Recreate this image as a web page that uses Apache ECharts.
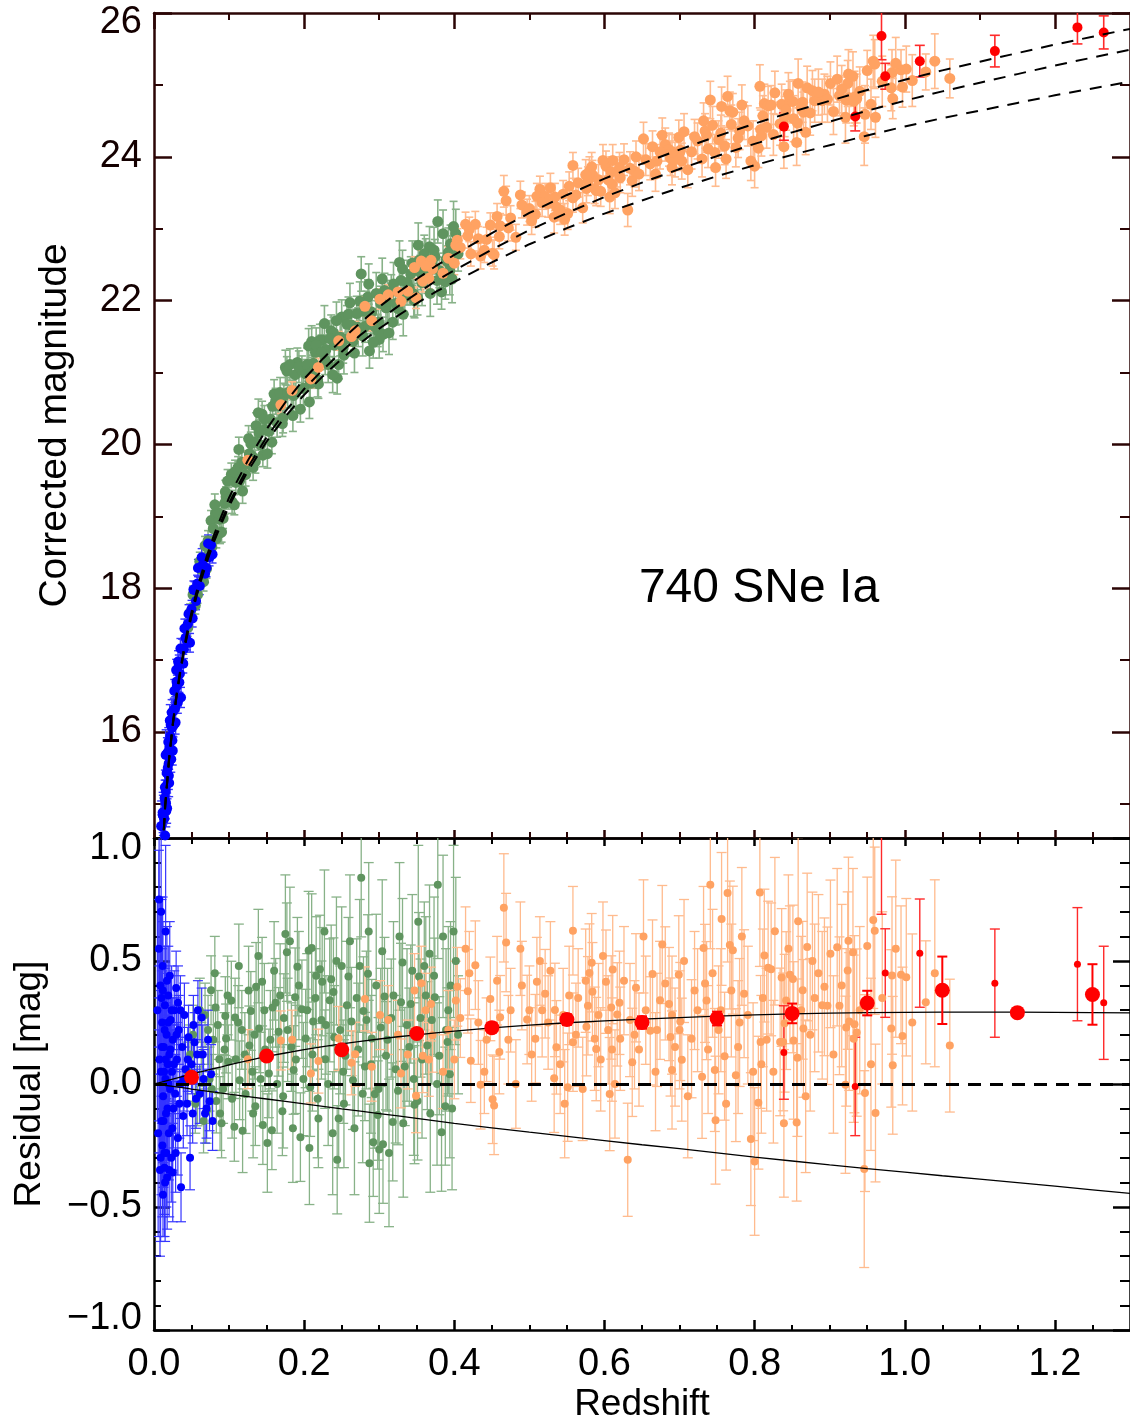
<!DOCTYPE html>
<html>
<head>
<meta charset="utf-8">
<title>740 SNe Ia</title>
<script src="https://cdn.jsdelivr.net/npm/echarts@6/dist/echarts.min.js"></script>
<style>
  html, body { margin: 0; padding: 0; background: #fff; }
  #chart { width: 1130px; height: 1424px; }
</style>
</head>
<body>
<div id="chart"></div>
<script>
// tick positions
var xMajor = [0, 0.2, 0.4, 0.6, 0.8, 1.0, 1.2];
var xMinorFine = [0.05, 0.1, 0.15, 0.25, 0.3, 0.35, 0.45, 0.5, 0.55, 0.65, 0.7, 0.75, 0.85, 0.9, 0.95, 1.05, 1.1, 1.15, 1.25];
var xMinorCoarse = [0.1, 0.3, 0.5, 0.7, 0.9, 1.1];
var magMajor = [16, 18, 20, 22, 24, 26];
var magMinor = [15, 17, 19, 21, 23, 25];
var resMajor = [-1, -0.5, 0, 0.5, 1];
var resMinor = [-0.9, -0.8, -0.7, -0.6, -0.4, -0.3, -0.2, -0.1, 0.1, 0.2, 0.3, 0.4, 0.6, 0.7, 0.8, 0.9];

// low-z sample (blue)
var blueZ = [0.0045,0.0055,0.0065,0.0072,0.0080,0.0085,0.0092,0.0100,0.0108,0.0115,
  0.0122,0.0130,0.0138,0.0145,0.0152,0.0160,0.0168,0.0175,0.0183,0.0190,
  0.0198,0.0205,0.0213,0.0222,0.0230,0.0240,0.0250,0.0260,0.0270,0.0282,
  0.0295,0.0305,0.0318,0.0330,0.0345,0.0360,0.0375,0.0390,0.0405,0.0420,
  0.0440,0.0460,0.0480,0.0500,0.0525,0.0540,0.0560,0.0585,0.0610,0.0635,
  0.0650,0.0680,0.0700,0.0740,0.0760,0.0120,0.0155,0.0210,0.0250,0.0100,
  0.0140,0.0320,0.0068,0.0095,
  0.0088,0.0105,0.0112,0.0118,0.0126,0.0134,0.0142,0.0148,0.0157,0.0164,
  0.0172,0.0180,0.0187,0.0195,0.0202,0.0218,0.0235,0.0245,0.0265,0.0288,
  0.0300,0.0338,0.0352,0.0398,0.0450,0.0515,0.0575,0.0660,0.0720,0.0780];
var blueMag = [12.66,12.60,13.71,13.48,13.26,14.15,13.97,13.95,14.52,14.88,
  14.48,14.82,14.52,15.23,15.03,15.01,15.43,14.94,15.50,15.86,
  15.39,15.79,15.73,16.10,15.62,16.06,16.28,16.09,16.57,16.33,
  16.86,16.64,16.41,16.93,16.81,16.48,17.15,16.95,17.44,17.31,
  17.27,17.64,17.24,17.71,17.98,17.97,17.82,18.28,18.03,18.43,
  18.33,18.20,18.28,18.43,18.60,14.05,15.68,16.16,15.74,14.45,
  14.49,16.98,14.01,14.69,
  13.52,14.36,14.10,14.84,14.45,14.79,15.08,14.56,15.18,14.90,
  15.70,15.28,15.72,15.56,15.29,15.94,16.27,15.88,16.31,16.13,
  16.70,16.69,17.16,17.15,17.50,17.58,18.06,18.27,18.62,18.47];
var blueRes = [0.30,-0.20,0.55,0.10,-0.35,0.40,0.05,-0.15,0.25,0.48,
  -0.05,0.15,-0.28,0.32,0.02,-0.12,0.20,-0.38,0.08,0.36,
  -0.20,0.12,-0.02,0.26,-0.30,0.05,0.18,-0.10,0.30,-0.04,
  0.39,0.10,-0.22,0.22,0.00,-0.42,0.15,-0.13,0.28,0.06,
  -0.08,0.19,-0.30,0.08,0.24,0.17,-0.06,0.30,-0.04,0.27,
  0.12,-0.12,-0.10,-0.07,0.04,-0.45,0.62,0.44,-0.36,0.35,
  -0.34,0.33,0.75,0.70,
  -0.30,0.15,-0.25,0.38,-0.15,0.05,0.22,-0.40,0.10,-0.28,
  0.42,-0.10,0.25,0.00,-0.35,0.14,0.30,-0.18,0.08,-0.28,
  0.20,-0.08,0.30,0.02,0.10,-0.12,0.12,0.02,0.18,-0.15];
var blueErr = [0.45,0.42,0.40,0.38,0.35,0.36,0.33,0.30,0.30,0.28,
  0.27,0.26,0.25,0.24,0.23,0.22,0.22,0.21,0.20,0.20,
  0.19,0.19,0.18,0.18,0.18,0.17,0.17,0.16,0.16,0.16,
  0.15,0.15,0.15,0.14,0.14,0.14,0.14,0.13,0.13,0.13,
  0.13,0.13,0.13,0.12,0.12,0.12,0.12,0.12,0.12,0.12,
  0.12,0.12,0.12,0.12,0.12,0.17,0.35,0.22,0.20,0.40,
  0.28,0.15,0.40,0.35,
  0.34,0.31,0.29,0.28,0.27,0.26,0.25,0.24,0.23,0.22,
  0.22,0.21,0.20,0.20,0.19,0.18,0.18,0.17,0.16,0.16,
  0.15,0.14,0.14,0.13,0.13,0.12,0.12,0.12,0.12,0.12];

// SDSS (green)
var greenZ = [0.276,0.378,0.175,0.210,0.206,0.177,0.191,0.250,0.367,0.144,
  0.076,0.082,0.095,0.103,0.136,0.158,0.188,0.224,0.236,0.259,
  0.285,0.307,0.329,0.353,0.374,0.391,0.380,0.096,0.087,0.109,
  0.127,0.140,0.166,0.202,0.229,0.263,0.290,0.316,0.342,0.364,
  0.325,0.347,0.298,0.294,0.246,0.244,0.287,0.300,0.305,0.292,
  0.195,0.145,0.157,0.107,0.090,0.070,0.083,0.122,0.171,0.219,
  0.318,0.351,0.383,0.388,0.208,0.265,0.186,0.153,0.114,0.228,
  0.255,0.281,0.309,0.334,0.129,0.173,0.197,0.212,0.279,0.355,
  0.360,0.331,0.239,0.221,0.215,0.183,0.045,0.052,0.058,0.063,
  0.068,0.074,0.079,0.085,0.092,0.099,0.117,0.131,0.148,0.162,
  0.240,0.270,0.302,0.340,0.370,0.395,0.405,0.252,0.112,0.135,
  0.048,0.055,0.061,0.066,0.072,0.077,0.081,0.088,0.094,0.098,
  0.104,0.108,0.113,0.118,0.121,0.126,0.132,0.134,0.139,0.142,
  0.147,0.151,0.155,0.160,0.164,0.168,0.172,0.178,0.181,0.185,
  0.189,0.193,0.199,0.204,0.207,0.211,0.216,0.218,0.223,0.227,
  0.232,0.234,0.238,0.243,0.248,0.253,0.257,0.261,0.267,0.272,
  0.274,0.278,0.283,0.286,0.289,0.296,0.299,0.304,0.311,0.313,
  0.319,0.322,0.327,0.332,0.337,0.344,0.346,0.352,0.357,0.362,
  0.368,0.373,0.377,0.385,0.389,0.397,0.402,0.392,0.394,0.399];
var greenMag = [22.37,23.10,21.07,21.43,21.37,21.02,21.14,21.77,22.75,20.42,
  18.94,19.04,19.34,19.58,20.26,20.53,20.97,21.45,21.58,21.81,
  22.05,22.14,22.28,22.56,22.61,22.54,22.42,19.27,18.96,19.47,
  19.87,20.16,20.54,20.98,21.32,21.66,21.84,22.12,22.37,22.36,
  21.89,22.00,21.58,21.64,21.11,20.92,21.30,21.46,21.53,21.42,
  20.49,19.85,20.03,19.16,18.78,18.27,18.69,19.58,20.29,20.84,
  21.70,22.04,22.12,22.26,20.85,21.43,20.68,20.18,19.49,21.17,
  21.46,21.64,21.90,22.05,20.01,20.67,21.03,21.13,21.85,22.39,
  22.65,22.44,21.55,21.45,21.28,20.71,17.45,17.91,17.91,18.26,
  18.59,18.52,18.83,19.05,18.97,19.25,19.75,19.83,20.21,20.60,
  21.38,21.82,21.96,22.18,22.50,22.79,22.65,21.34,19.68,19.76,
  17.66,17.76,18.37,18.09,18.66,18.57,19.16,18.77,19.18,19.49,
  19.20,19.62,19.93,19.35,19.72,20.08,19.68,20.03,20.44,19.99,
  20.35,19.87,20.35,20.70,20.30,20.72,20.37,20.72,21.11,20.40,
  20.73,21.08,20.78,21.11,20.59,21.01,21.38,20.90,21.28,21.68,
  21.11,21.47,20.97,21.72,21.49,21.24,21.67,21.97,21.27,21.63,
  21.99,21.51,21.85,22.23,21.72,22.10,21.70,22.30,21.99,21.55,
  22.23,21.96,22.53,21.81,22.25,22.52,22.09,22.77,22.25,22.54,
  22.10,22.70,22.28,22.93,22.57,22.30,22.93,22.67,22.42,23.03];
var greenRes = [0.838,0.810,0.610,0.553,0.543,0.536,0.477,0.480,0.529,0.416,
  0.381,0.311,0.276,0.339,0.395,0.311,0.353,0.416,0.426,0.437,
  0.448,0.356,0.332,0.437,0.353,0.171,0.115,0.185,0.101,0.101,
  0.157,0.226,0.212,0.185,0.240,0.254,0.185,0.268,0.325,0.156,
  -0.027,-0.084,-0.126,-0.041,-0.140,-0.308,-0.322,-0.266,-0.245,-0.237,
  -0.216,-0.167,-0.188,-0.174,-0.160,-0.111,-0.069,-0.041,-0.111,-0.140,
  -0.154,-0.069,-0.196,-0.090,-0.013,0.015,0.057,0.043,0.015,0.101,
  0.115,0.071,0.115,0.071,0.297,0.268,0.304,0.254,0.297,0.268,
  0.480,0.494,0.374,0.466,0.350,0.150,0.05,0.20,-0.05,0.12,
  0.28,0.02,0.18,0.24,-0.02,0.09,0.22,0.05,0.14,0.33,
  0.19,0.35,0.23,0.15,0.26,0.40,0.20,0.05,0.25,-0.09,
  0.12,-0.08,0.30,-0.15,0.22,-0.02,0.45,-0.12,0.14,0.36,
  -0.06,0.27,0.48,-0.19,0.12,0.38,-0.12,0.20,0.52,0.02,
  0.30,-0.24,0.18,0.46,0.00,0.36,-0.05,0.22,0.58,-0.18,
  0.10,0.40,0.02,0.30,-0.26,0.12,0.44,-0.06,0.26,0.62,
  0.00,0.34,-0.20,0.50,0.22,-0.08,0.32,0.58,-0.18,0.14,
  0.48,-0.04,0.26,0.62,0.08,0.40,-0.02,0.54,0.18,-0.28,
  0.36,0.06,0.60,-0.16,0.24,0.46,0.02,0.66,0.10,0.36,
  -0.12,0.44,0.00,0.60,0.22,-0.10,0.50,0.30,0.04,0.62];
var greenErr = [0.24,0.30,0.24,0.22,0.24,0.20,0.20,0.24,0.28,0.18,
  0.14,0.14,0.16,0.16,0.18,0.18,0.20,0.22,0.22,0.24,
  0.24,0.24,0.24,0.26,0.24,0.22,0.24,0.14,0.14,0.16,
  0.16,0.18,0.18,0.20,0.20,0.22,0.24,0.24,0.24,0.26,
  0.22,0.24,0.22,0.22,0.20,0.22,0.24,0.26,0.24,0.22,
  0.18,0.16,0.16,0.14,0.14,0.13,0.13,0.16,0.18,0.20,
  0.24,0.24,0.24,0.24,0.20,0.20,0.18,0.18,0.16,0.20,
  0.20,0.22,0.22,0.24,0.16,0.18,0.20,0.20,0.22,0.24,
  0.26,0.26,0.22,0.22,0.20,0.18,0.12,0.12,0.12,0.13,
  0.13,0.13,0.14,0.14,0.14,0.15,0.16,0.16,0.17,0.18,
  0.21,0.24,0.24,0.24,0.26,0.26,0.24,0.21,0.15,0.16,
  0.12,0.12,0.13,0.13,0.14,0.14,0.15,0.15,0.15,0.16,
  0.16,0.16,0.17,0.17,0.17,0.18,0.18,0.18,0.19,0.19,
  0.19,0.20,0.20,0.20,0.20,0.21,0.21,0.21,0.22,0.22,
  0.22,0.22,0.23,0.23,0.23,0.23,0.24,0.24,0.24,0.25,
  0.25,0.25,0.25,0.26,0.26,0.26,0.26,0.27,0.27,0.27,
  0.27,0.28,0.28,0.28,0.28,0.29,0.29,0.29,0.29,0.30,
  0.30,0.30,0.30,0.30,0.31,0.31,0.31,0.31,0.32,0.32,
  0.32,0.32,0.33,0.33,0.33,0.33,0.34,0.34,0.34,0.35];

// SNLS (orange)
var orangeZ = [0.169,0.184,0.125,0.209,0.219,0.246,0.268,0.281,0.301,0.263,
  0.290,0.325,0.329,0.349,0.356,0.347,0.369,0.371,0.404,0.402,
  0.408,0.400,0.358,0.366,0.466,0.469,0.428,0.418,0.448,0.461,
  0.443,0.422,0.435,0.451,0.453,0.558,0.514,0.510,0.521,0.497,
  0.508,0.534,0.536,0.533,0.547,0.551,0.558,0.583,0.580,0.584,
  0.578,0.576,0.587,0.589,0.602,0.611,0.609,0.617,0.621,0.607,
  0.631,0.637,0.642,0.664,0.661,0.677,0.681,0.686,0.688,0.690,
  0.699,0.701,0.703,0.716,0.730,0.732,0.734,0.741,0.736,0.747,
  0.748,0.756,0.764,0.767,0.771,0.760,0.775,0.786,0.795,0.800,
  0.805,0.807,0.813,0.818,0.822,0.827,0.838,0.839,0.808,0.809,
  0.836,0.847,0.851,0.858,0.842,0.864,0.870,0.877,0.840,0.834,
  0.852,0.857,0.865,0.856,0.893,0.890,0.897,0.901,0.910,0.913,
  0.925,0.924,0.931,0.922,0.926,0.933,0.936,0.932,0.921,0.950,
  0.958,0.960,0.947,0.961,0.946,0.983,0.982,0.984,0.995,1.002,
  0.997,1.028,1.060,0.420,0.475,0.490,0.525,0.565,0.595,0.655,
  0.670,0.720,0.755,0.780,0.880,0.640,0.620,0.500,0.460,0.545,
  0.610,0.700,
  0.312,0.338,0.362,0.385,0.392,0.415,0.432,0.440,0.457,0.472,
  0.482,0.488,0.503,0.517,0.528,0.541,0.553,0.562,0.571,0.592,
  0.598,0.605,0.614,0.626,0.634,0.646,0.652,0.668,0.674,0.694,
  0.706,0.711,0.724,0.738,0.744,0.752,0.762,0.769,0.778,0.783,
  0.791,0.798,0.811,0.816,0.825,0.845,0.862,0.868,0.874,0.885,
  0.905,0.916,0.940,0.955,0.970,0.988,1.010,1.040,0.575,0.690];
var orangeMag = [20.55,20.75,19.78,20.91,21.07,21.44,21.58,21.92,22.02,21.50,
  21.72,22.12,21.99,22.04,22.55,22.46,22.56,22.44,22.84,22.77,
  22.74,22.52,22.27,22.31,23.52,23.39,23.06,22.90,23.05,23.04,
  22.85,22.65,22.62,22.66,22.64,23.88,23.55,23.45,23.45,23.23,
  23.20,23.44,23.30,23.16,23.13,23.21,23.43,23.86,23.80,23.75,
  23.66,23.56,23.56,23.53,23.87,23.95,23.79,23.79,23.71,23.44,
  23.26,23.67,24.00,24.14,23.90,24.30,24.17,24.10,23.98,23.85,
  24.27,24.09,23.94,24.07,23.97,24.50,24.36,24.79,24.30,24.06,
  23.85,24.70,24.84,24.64,24.62,24.15,24.13,24.50,23.94,23.87,
  24.12,24.98,24.74,24.71,24.72,24.89,24.47,24.14,24.38,24.29,
  24.73,24.77,24.77,25.02,24.65,24.76,24.96,24.92,24.56,24.46,
  24.53,24.47,24.62,24.20,24.87,24.78,24.80,25.02,25.08,24.85,
  25.15,25.02,25.12,24.79,24.82,24.83,24.81,24.77,24.55,25.20,
  25.33,25.29,24.59,24.55,24.28,25.17,24.96,24.81,25.21,25.22,
  24.97,25.18,25.09,22.99,23.15,23.33,23.35,23.64,23.52,23.96,
  23.94,24.28,24.33,24.36,24.78,23.80,23.85,23.28,22.89,23.48,
  23.62,24.05,
  22.08,22.13,22.48,22.38,22.59,23.06,22.86,22.70,23.17,23.01,
  22.88,23.47,23.11,23.36,23.57,23.26,23.59,23.47,23.29,23.68,
  23.95,23.68,23.50,23.96,23.84,23.76,24.25,23.76,24.07,23.96,
  24.35,23.82,24.22,24.11,24.44,24.24,23.97,24.45,24.26,24.72,
  24.43,24.22,24.57,24.41,24.31,24.87,24.68,24.34,24.61,24.90,
  24.63,24.94,24.91,24.73,25.05,25.30,25.06,25.33,23.75,24.07];
var orangeRes = [0.177,0.180,0.101,0.043,0.093,0.185,0.121,0.346,0.280,0.086,
  0.070,0.200,0.043,-0.048,0.410,0.380,0.325,0.198,0.395,0.339,
  0.268,0.100,0.115,0.100,0.716,0.575,0.483,0.377,0.346,0.271,
  0.180,0.095,-0.003,-0.062,-0.087,0.623,0.500,0.416,0.367,0.262,
  0.184,0.301,0.149,0.023,-0.080,-0.013,0.170,0.493,0.451,0.375,
  0.318,0.233,0.184,0.142,0.416,0.465,0.311,0.283,0.184,-0.041,
  -0.308,0.088,0.391,0.447,0.216,0.567,0.409,0.325,0.191,0.057,
  0.444,0.254,0.099,0.184,0.029,0.553,0.409,0.810,0.339,0.057,
  -0.147,0.671,0.776,0.565,0.544,0.113,0.036,0.367,-0.224,-0.315,
  -0.076,0.778,0.522,0.473,0.466,0.621,0.171,-0.160,0.171,0.080,
  0.433,0.444,0.427,0.662,0.339,0.381,0.557,0.500,0.247,0.171,
  0.177,0.107,0.226,-0.156,0.395,0.320,0.318,0.529,0.556,0.318,
  0.582,0.461,0.536,0.230,0.254,0.243,0.209,0.184,-0.003,0.561,
  0.667,0.623,-0.037,-0.118,-0.346,0.441,0.226,0.076,0.444,0.434,
  0.195,0.332,0.156,0.450,0.300,0.400,0.250,0.350,0.100,0.300,
  0.220,0.380,0.300,0.250,0.350,0.200,0.330,0.300,0.130,0.280,
  0.140,0.220,
  0.26,0.12,0.30,0.05,0.22,0.55,0.25,0.05,0.42,0.18,
  0.00,0.55,0.12,0.30,0.46,0.08,0.36,0.20,-0.02,0.28,
  0.52,0.22,0.00,0.42,0.26,0.14,0.60,0.05,0.34,0.15,
  0.50,-0.05,0.30,0.14,0.45,0.22,-0.08,0.38,0.15,0.60,
  0.28,0.05,0.35,0.18,0.05,0.55,0.30,-0.05,0.20,0.45,
  0.12,0.40,0.30,0.08,0.35,0.55,0.25,0.45,0.42,0.28];
var orangeErr = [0.12,0.12,0.12,0.12,0.13,0.13,0.13,0.13,0.14,0.13,
  0.14,0.14,0.14,0.15,0.15,0.15,0.15,0.15,0.16,0.16,
  0.16,0.16,0.15,0.15,0.22,0.20,0.18,0.17,0.17,0.17,
  0.17,0.17,0.18,0.18,0.20,0.18,0.18,0.18,0.18,0.18,
  0.18,0.19,0.19,0.22,0.22,0.22,0.20,0.20,0.20,0.20,
  0.20,0.20,0.21,0.21,0.21,0.22,0.21,0.21,0.21,0.23,
  0.23,0.22,0.22,0.22,0.22,0.24,0.23,0.23,0.24,0.24,
  0.24,0.24,0.25,0.24,0.25,0.25,0.24,0.26,0.24,0.25,
  0.26,0.27,0.28,0.26,0.26,0.26,0.27,0.26,0.27,0.30,
  0.27,0.30,0.27,0.27,0.27,0.30,0.28,0.30,0.27,0.28,
  0.28,0.28,0.30,0.34,0.28,0.28,0.30,0.28,0.28,0.30,
  0.32,0.32,0.28,0.32,0.28,0.30,0.32,0.30,0.32,0.28,
  0.34,0.32,0.34,0.32,0.28,0.36,0.34,0.34,0.36,0.28,
  0.36,0.34,0.40,0.28,0.40,0.32,0.32,0.28,0.28,0.32,
  0.28,0.25,0.27,0.17,0.17,0.18,0.19,0.20,0.21,0.22,
  0.23,0.24,0.25,0.26,0.30,0.22,0.21,0.18,0.17,0.19,
  0.21,0.24,
  0.14,0.14,0.15,0.15,0.16,0.17,0.17,0.17,0.18,0.18,
  0.18,0.19,0.19,0.19,0.20,0.20,0.20,0.21,0.21,0.21,
  0.22,0.22,0.22,0.22,0.23,0.23,0.23,0.24,0.24,0.24,
  0.25,0.25,0.25,0.26,0.26,0.26,0.27,0.27,0.27,0.28,
  0.28,0.28,0.28,0.29,0.29,0.30,0.30,0.31,0.31,0.32,
  0.32,0.33,0.34,0.35,0.35,0.36,0.36,0.38,0.21,0.24];

// HST (red)
var redZ = [0.839, 0.934, 0.969, 0.974, 1.020, 1.120, 1.230, 1.265];
var redMag = [24.42, 24.56, 25.68, 25.12, 25.33, 25.47, 25.80, 25.73];
var redRes = [0.128, -0.010, 1.020, 0.451, 0.532, 0.410, 0.487, 0.330];
var redErr = [0.19, 0.20, 0.33, 0.18, 0.22, 0.22, 0.23, 0.23];

// binned residuals
var binZ = [0.05, 0.15, 0.25, 0.35, 0.45, 0.55, 0.65, 0.75, 0.85, 0.95, 1.05, 1.15, 1.25];
var binRes = [0.027, 0.114, 0.139, 0.205, 0.229, 0.262, 0.250, 0.266, 0.287, 0.329, 0.381, 0.290, 0.364];
var binErr = [0.012, 0.012, 0.012, 0.015, 0.020, 0.022, 0.025, 0.028, 0.040, 0.050, 0.137, 0.010, 0.123];

// model curves
var curveZ = [0,0.005,0.01,0.015,0.02,0.025,0.03,0.035,0.04,0.045,0.05,0.055,0.06,0.065,0.07,0.075,0.08,0.09,0.1,0.11,0.125,
  0.15,0.175,0.2,0.225,0.25,0.275,0.3,0.325,0.35,0.375,0.4,0.45,0.5,0.55,0.6,0.65,0.7,0.75,0.8,0.85,0.9,0.95,1.0,1.05,1.1,1.15,1.2,1.25,1.3];
var refMag = [null,12.59,14.10,14.98,15.61,16.10,16.50,16.84,17.14,17.40,17.63,17.84,18.04,18.21,18.38,18.53,18.68,18.94,19.18,19.39,19.68,
  20.10,20.46,20.77,21.04,21.29,21.52,21.73,21.92,22.10,22.27,22.42,22.71,22.98,23.22,23.44,23.64,23.83,24.01,24.18,24.34,24.49,24.64,24.78,24.91,25.03,25.15,25.27,25.38,25.49];
var lcdmRes = [0,0.004,0.008,0.012,0.016,0.020,0.024,0.028,0.032,0.036,0.040,0.044,0.048,0.051,0.055,0.059,0.063,0.070,0.078,0.085,0.095,
  0.112,0.126,0.140,0.152,0.163,0.173,0.183,0.192,0.200,0.208,0.215,0.228,0.239,0.249,0.257,0.264,0.270,0.276,0.281,0.285,0.288,0.290,0.291,0.292,0.292,0.292,0.291,0.290,0.289];
var decelRes = [0,-0.002,-0.004,-0.006,-0.008,-0.010,-0.012,-0.014,-0.016,-0.018,-0.021,-0.023,-0.025,-0.027,-0.029,-0.031,-0.033,-0.037,-0.041,-0.045,-0.051,
  -0.061,-0.071,-0.081,-0.091,-0.101,-0.110,-0.120,-0.130,-0.140,-0.150,-0.160,-0.178,-0.196,-0.213,-0.230,-0.247,-0.263,-0.280,-0.297,-0.313,-0.329,-0.344,-0.358,-0.373,-0.387,-0.401,-0.415,-0.430,-0.445];

var FONT = '"Liberation Sans", Arial, Helvetica, sans-serif';
var TOPC = '#2b0505';
var BLK = '#000000';
var GREEN = '#5f945f', GREEN_BAR = '#88b288';
var ORANGE = '#ffa262', ORANGE_BAR = '#ffbb8e';
var BLUE = '#0000ff', BLUE_BAR = '#3535ff';
var RED = '#ff0000', RED_BAR = '#ff2a2a';

var MAG_MIN = 14.525, MAG_MAX = 26;
var RES_MIN = -1, RES_MAX = 1;
var Z_MAX = 1.3;

function rows(z, y, e) {
  return z.map(function (v, i) { return e ? [v, y[i], e[i]] : [v, y[i]]; });
}

function tickAxis(grid, pos, min, max, ticks, len, color, width, line) {
  return {
    type: 'value', gridIndex: grid, position: pos, min: min, max: max,
    axisLine: { show: !!line, onZero: false, lineStyle: { color: color, width: 2.5 } },
    axisTick: { show: true, inside: true, length: len, customValues: ticks, lineStyle: { color: color, width: width } },
    axisLabel: { show: false },
    splitLine: { show: false },
    silent: true
  };
}

function errBars(cap, lw, color) {
  return function (params, api) {
    var x = api.value(0), y = api.value(1), e = api.value(2);
    var hi = api.coord([x, y + e]);
    var lo = api.coord([x, y - e]);
    var st = { stroke: color, lineWidth: lw };
    return {
      type: 'group',
      children: [
        { type: 'line', shape: { x1: hi[0], y1: hi[1], x2: lo[0], y2: lo[1] }, style: st },
        { type: 'line', shape: { x1: hi[0] - cap, y1: hi[1], x2: hi[0] + cap, y2: hi[1] }, style: st },
        { type: 'line', shape: { x1: lo[0] - cap, y1: lo[1], x2: lo[0] + cap, y2: lo[1] }, style: st }
      ]
    };
  };
}

function errSeries(xi, yi, data, cap, lw, color, z) {
  return {
    type: 'custom', xAxisIndex: xi, yAxisIndex: yi, data: data, clip: true, silent: true,
    z: z || 2, encode: { x: 0, y: 1 }, renderItem: errBars(cap, lw, color)
  };
}

function dotSeries(xi, yi, data, size, color, z) {
  return {
    type: 'scatter', xAxisIndex: xi, yAxisIndex: yi, data: data, clip: true, silent: true,
    z: z || 2, symbol: 'circle', symbolSize: size, itemStyle: { color: color, opacity: 1 }
  };
}

function lineSeries(xi, yi, data, style, z) {
  return {
    type: 'line', xAxisIndex: xi, yAxisIndex: yi, data: data, clip: true, silent: true,
    showSymbol: false, symbol: 'none', z: z || 3, lineStyle: style
  };
}

// top panel model curves (reference + model offsets)
var topUpper = [], topMid = [], topLower = [];
curveZ.forEach(function (z, i) {
  if (refMag[i] === null) return;
  topUpper.push([z, +(refMag[i] + lcdmRes[i]).toFixed(3)]);
  topMid.push([z, refMag[i]]);
  topLower.push([z, +(refMag[i] + decelRes[i]).toFixed(3)]);
});

var topDash = { color: BLK, width: 2, type: [12, 9] };

var option = {
  animation: false,
  backgroundColor: '#ffffff',
  textStyle: { fontFamily: FONT },
  grid: [
    { left: 154, top: 13, width: 984, height: 825 },
    { left: 154, top: 838, width: 984, height: 498 }
  ],
  xAxis: [
    tickAxis(0, 'bottom', 0, Z_MAX, xMajor, 8, TOPC, 2.5, true),
    tickAxis(0, 'bottom', 0, Z_MAX, xMinorFine, 6, TOPC, 2, false),
    tickAxis(0, 'top', 0, Z_MAX, xMajor, 16, TOPC, 2.5, true),
    tickAxis(0, 'top', 0, Z_MAX, xMinorCoarse, 7, TOPC, 2, false),
    Object.assign(tickAxis(1, 'bottom', 0, Z_MAX, xMajor, 10, BLK, 2.5, true), {
      name: 'Redshift', nameLocation: 'middle', nameGap: 56,
      nameTextStyle: { fontSize: 37, fontFamily: FONT, color: BLK },
      axisLabel: {
        show: true, customValues: xMajor, margin: 16, fontSize: 38, fontFamily: FONT, color: BLK,
        formatter: function (v) { return v.toFixed(1); }
      }
    }),
    tickAxis(1, 'bottom', 0, Z_MAX, xMinorFine, 5, BLK, 2, false),
    tickAxis(1, 'top', 0, Z_MAX, xMajor, 8, BLK, 2.5, true),
    tickAxis(1, 'top', 0, Z_MAX, xMinorFine, 6, BLK, 2, false)
  ],
  yAxis: [
    Object.assign(tickAxis(0, 'left', MAG_MIN, MAG_MAX, magMajor, 18, TOPC, 2.5, true), {
      name: 'Corrected magnitude', nameLocation: 'middle', nameGap: 79,
      nameTextStyle: { fontSize: 39, fontFamily: FONT, color: BLK },
      axisLabel: {
        show: true, customValues: magMajor, margin: 12, fontSize: 38, fontFamily: FONT, color: '#140000',
        formatter: function (v) { return v === 26 ? '{down|26}' : String(v); },
        rich: { down: { padding: [20, 0, 0, 0], fontSize: 38, fontFamily: FONT, color: '#140000' } }
      }
    }),
    tickAxis(0, 'left', MAG_MIN, MAG_MAX, magMinor, 9, TOPC, 2, false),
    tickAxis(0, 'right', MAG_MIN, MAG_MAX, magMajor, 18, TOPC, 2.5, true),
    tickAxis(0, 'right', MAG_MIN, MAG_MAX, magMinor, 10, TOPC, 2, false),
    Object.assign(tickAxis(1, 'left', RES_MIN, RES_MAX, resMajor, 16, BLK, 2.5, true), {
      name: 'Residual [mag]', nameLocation: 'middle', nameGap: 106,
      nameTextStyle: { fontSize: 37, fontFamily: FONT, color: BLK },
      axisLabel: {
        show: true, customValues: resMajor, margin: 12, fontSize: 38, fontFamily: FONT, color: BLK,
        formatter: function (v) {
          var s = (v < 0 ? '\u2212' : '') + Math.abs(v).toFixed(1);
          if (v === RES_MAX) return '{down|' + s + '}';
          if (v === RES_MIN) return '{up|' + s + '}';
          return s;
        },
        rich: {
          down: { padding: [22, 0, 0, 0], fontSize: 38, fontFamily: FONT, color: BLK },
          up: { padding: [0, 0, 22, 0], fontSize: 38, fontFamily: FONT, color: BLK }
        }
      }
    }),
    tickAxis(1, 'left', RES_MIN, RES_MAX, resMinor, 7, BLK, 2, false),
    tickAxis(1, 'right', RES_MIN, RES_MAX, resMajor, 17, BLK, 2.5, true),
    tickAxis(1, 'right', RES_MIN, RES_MAX, resMinor, 10, BLK, 2, false)
  ],
  graphic: [{
    type: 'text', z: 10,
    style: { text: '740 SNe Ia', x: 759, y: 589, align: 'center', verticalAlign: 'middle',
      fontSize: 48, fontFamily: FONT, fill: BLK }
  }],
  series: [
    // top panel
    errSeries(0, 0, rows(greenZ, greenMag, greenErr), 4, 1.6, GREEN_BAR),
    dotSeries(0, 0, rows(greenZ, greenMag), 11, GREEN),
    errSeries(0, 0, rows(orangeZ, orangeMag, orangeErr), 4, 1.6, ORANGE_BAR),
    dotSeries(0, 0, rows(orangeZ, orangeMag), 11, ORANGE),
    errSeries(0, 0, rows(blueZ, blueMag, blueErr), 4, 1.4, BLUE_BAR),
    dotSeries(0, 0, rows(blueZ, blueMag), 10, BLUE),
    errSeries(0, 0, rows(redZ, redMag, redErr), 5, 1.6, RED_BAR),
    dotSeries(0, 0, rows(redZ, redMag), 10, RED),
    lineSeries(0, 0, topUpper, topDash),
    lineSeries(0, 0, topMid, topDash),
    lineSeries(0, 0, topLower, topDash),
    // bottom panel
    errSeries(4, 4, rows(greenZ, greenRes, greenErr), 5, 1.3, GREEN_BAR),
    dotSeries(4, 4, rows(greenZ, greenRes), 8, GREEN),
    errSeries(4, 4, rows(orangeZ, orangeRes, orangeErr), 5, 1.3, ORANGE_BAR),
    dotSeries(4, 4, rows(orangeZ, orangeRes), 8, ORANGE),
    errSeries(4, 4, rows(blueZ, blueRes, blueErr), 5, 1.2, BLUE_BAR),
    dotSeries(4, 4, rows(blueZ, blueRes), 8, BLUE),
    errSeries(4, 4, rows(redZ, redRes, redErr), 5, 1.4, RED_BAR),
    dotSeries(4, 4, rows(redZ, redRes), 7, RED),
    Object.assign(lineSeries(4, 4, rows(curveZ, lcdmRes), { color: BLK, width: 1.3 }), {
      markLine: {
        silent: true, symbol: 'none', label: { show: false },
        lineStyle: { color: BLK, width: 3, type: [13, 9] },
        data: [{ yAxis: 0 }]
      }
    }),
    lineSeries(4, 4, rows(curveZ, decelRes), { color: BLK, width: 1.3 }),
    errSeries(4, 4, rows(binZ, binRes, binErr), 5, 2, RED, 4),
    dotSeries(4, 4, rows(binZ, binRes), 15, RED, 4)
  ]
};

var chart = echarts.init(document.getElementById('chart'), null, { renderer: 'canvas' });
chart.setOption(option);
</script>
</body>
</html>
